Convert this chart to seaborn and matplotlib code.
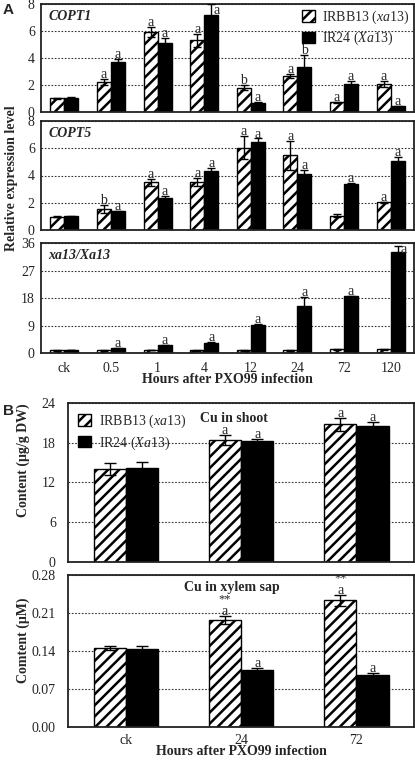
import matplotlib
matplotlib.use("Agg")
import matplotlib.pyplot as plt
import numpy as np
import pandas as pd
import seaborn as sns

# ---- data ----
LINES = ["IRBB13", "IR24"]
LEGEND_LABELS = [r"IRBB13 ($\mathit{xa13}$)", r"IR24 ($\mathit{Xa13}$)"]

HOURS_A = ["ck", "0.5", "1", "4", "12", "24", "72", "120"]

copt1_irbb13 = [1.0, 2.2, 5.93, 5.3, 1.78, 2.66, 0.7, 2.07]
copt1_irbb13_err = [0.03, 0.25, 0.35, 0.5, 0.2, 0.15, 0.05, 0.2]
copt1_ir24 = [1.05, 3.68, 5.12, 7.15, 0.68, 3.34, 2.07, 0.41]
copt1_ir24_err = [0.03, 0.27, 0.37, 0.83, 0.03, 0.88, 0.2, 0.03]
copt1_irbb13_sig = ["", "a", "a", "a", "b", "a", "a", "a"]
copt1_ir24_sig = ["", "a", "a", "a", "a", "b", "a", "a"]

copt5_irbb13 = [0.99, 1.53, 3.5, 3.5, 6.05, 5.48, 1.04, 2.02]
copt5_irbb13_err = [0.03, 0.3, 0.25, 0.3, 0.85, 1.05, 0.1, 0.05]
copt5_ir24 = [1.0, 1.36, 2.32, 4.3, 6.47, 4.12, 3.38, 5.1]
copt5_ir24_err = [0.03, 0.05, 0.2, 0.22, 0.25, 0.27, 0.05, 0.25]
copt5_irbb13_sig = ["", "b", "a", "a", "a", "a", "", "a"]
copt5_ir24_sig = ["", "a", "a", "a", "a", "a", "a", "a"]

xa13_irbb13 = [1.0, 1.0, 1.1, 1.0, 1.0, 1.0, 1.3, 1.3]
xa13_irbb13_err = [0.1, 0.1, 0.1, 0.1, 0.1, 0.1, 0.1, 0.1]
xa13_ir24 = [1.1, 1.6, 2.6, 3.5, 9.4, 15.4, 18.6, 33.1]
xa13_ir24_err = [0.1, 0.1, 0.2, 0.2, 0.3, 3.0, 0.3, 2.1]
xa13_irbb13_sig = ["", "", "", "", "", "", "", ""]
xa13_ir24_sig = ["", "a", "a", "a", "a", "a", "a", "a"]

HOURS_B = ["ck", "24", "72"]

shoot_irbb13 = [13.98, 18.4, 20.8]
shoot_irbb13_err = [0.9, 0.7, 1.0]
shoot_ir24 = [14.2, 18.2, 20.5]
shoot_ir24_err = [0.85, 0.4, 0.6]
shoot_irbb13_sig = ["", "a", "a"]
shoot_ir24_sig = ["", "a", "a"]

sap_irbb13 = [0.1456, 0.197, 0.233]
sap_irbb13_err = [0.004, 0.0075, 0.01]
sap_ir24 = [0.1437, 0.1047, 0.0948]
sap_ir24_err = [0.005, 0.004, 0.004]
sap_irbb13_sig = ["", "a", "a"]
sap_ir24_sig = ["", "a", "a"]
sap_stars = ["", "**", "**"]

# ---- style ----
sns.set_style("white")
plt.rcParams["font.family"] = ["Liberation Serif", "DejaVu Serif"]
plt.rcParams["mathtext.fontset"] = "custom"
plt.rcParams["mathtext.rm"] = "Liberation Serif"
plt.rcParams["mathtext.it"] = "Liberation Serif:italic"
plt.rcParams["hatch.linewidth"] = 1.8
plt.rcParams["hatch.color"] = "black"

TICK_FS = 10
SIG_FS = 10
LABEL_FS = 10


def make_frame(hours, a, b):
    return pd.DataFrame({
        "hour": hours * 2,
        "line": [LINES[0]] * len(hours) + [LINES[1]] * len(hours),
        "value": list(a) + list(b),
    })


def draw_panel(ax, hours, a, a_err, b, b_err, a_sig, b_sig, ticks, width, capsize):
    df = make_frame(hours, a, b)
    sns.barplot(data=df, x="hour", y="value", hue="line", order=hours,
                hue_order=LINES, palette=["white", "black"], width=width,
                gap=0, errorbar=None, edgecolor="black", linewidth=1.0,
                legend=False, ax=ax)
    for p in ax.containers[0]:
        p.set_hatch("///")
    ymax = ticks[-1]
    for cont, errs, sigs in zip(ax.containers, [a_err, b_err], [a_sig, b_sig]):
        xs = [p.get_x() + p.get_width() / 2 for p in cont]
        hs = [p.get_height() for p in cont]
        ax.errorbar(xs, hs, yerr=errs, fmt="none", ecolor="black",
                    elinewidth=1.0, capsize=capsize, capthick=1.0, zorder=5)
        for x, h, e, s in zip(xs, hs, errs, sigs):
            if not s:
                continue
            y = h + e
            if y > ymax * 0.92:
                ax.text(x + 0.12, ymax, s, ha="center", va="top",
                        fontsize=SIG_FS, zorder=6)
            else:
                ax.annotate(s, (x, y), xytext=(0, -1.5), textcoords="offset points",
                            ha="center", va="bottom", fontsize=SIG_FS, zorder=6)
    ax.set_ylim(0, ymax)
    ax.set_xlim(-0.5, len(hours) - 0.5)
    ax.set_yticks(ticks)
    ax.set_axisbelow(True)
    ax.yaxis.grid(True, linestyle=(0, (1.5, 1.5)), linewidth=0.8, color="#333333")
    ax.xaxis.grid(False)
    for sp in ax.spines.values():
        sp.set_visible(True)
        sp.set_color("#222222")
        sp.set_linewidth(1.3)
    ax.tick_params(axis="both", length=0, labelsize=TICK_FS, pad=4.5)
    ax.set_xlabel("")
    ax.set_ylabel("")


fig = plt.figure(figsize=(4.15, 7.62), dpi=100)

H = 762.0
W = 415.0


def add_axes(left_px, top_px, right_px, bottom_px):
    return fig.add_axes([left_px / W, 1 - bottom_px / H,
                         (right_px - left_px) / W, (bottom_px - top_px) / H])


ax1 = add_axes(41, 4, 414, 111.7)
ax2 = add_axes(41, 121, 414, 230)
ax3 = add_axes(41, 243.3, 414, 353.3)
ax4 = add_axes(68.3, 403, 414, 561.7)
ax5 = add_axes(68.3, 575, 414, 726.7)

draw_panel(ax1, HOURS_A, copt1_irbb13, copt1_irbb13_err, copt1_ir24, copt1_ir24_err,
           copt1_irbb13_sig, copt1_ir24_sig, [0, 2, 4, 6, 8], 0.6, 3.0)
draw_panel(ax2, HOURS_A, copt5_irbb13, copt5_irbb13_err, copt5_ir24, copt5_ir24_err,
           copt5_irbb13_sig, copt5_ir24_sig, [0, 2, 4, 6, 8], 0.6, 3.0)
draw_panel(ax3, HOURS_A, xa13_irbb13, xa13_irbb13_err, xa13_ir24, xa13_ir24_err,
           xa13_irbb13_sig, xa13_ir24_sig, [0, 9, 18, 27, 36], 0.6, 3.0)
draw_panel(ax4, HOURS_B, shoot_irbb13, shoot_irbb13_err, shoot_ir24, shoot_ir24_err,
           shoot_irbb13_sig, shoot_ir24_sig, [0, 6, 12, 18, 24], 0.56, 4.3)
draw_panel(ax5, HOURS_B, sap_irbb13, sap_irbb13_err, sap_ir24, sap_ir24_err,
           sap_irbb13_sig, sap_ir24_sig, [0, 0.07, 0.14, 0.21, 0.28], 0.56, 4.3)

# stars above the "a" letters in xylem sap panel
for p, s, e in zip(ax5.containers[0], sap_stars, sap_irbb13_err):
    if s:
        ax5.annotate(s, (p.get_x() + p.get_width() / 2, p.get_height() + e),
                     xytext=(0, 7.5), textcoords="offset points",
                     ha="center", va="bottom", fontsize=9)

ax5.yaxis.set_major_formatter(matplotlib.ticker.FormatStrFormatter("%.2f"))

for ax in (ax1, ax2):
    ax.set_xticklabels([])
ax3.tick_params(axis="x", pad=6)
ax5.tick_params(axis="x", pad=5)
ax4.set_xticklabels([])
for ax in (ax4, ax5):
    ax.tick_params(axis="y", pad=9)

# titles inside panels
for ax, t in [(ax1, "COPT1"), (ax2, "COPT5"), (ax3, "xa13/Xa13")]:
    ax.text(0.019, 0.885, t, transform=ax.transAxes, ha="left", va="center",
            fontsize=LABEL_FS, fontweight="bold", fontstyle="italic")
ax4.text(0.48, 0.9, "Cu in shoot", transform=ax4.transAxes, ha="center",
         va="center", fontsize=LABEL_FS, fontweight="bold")
ax5.text(0.474, 0.915, "Cu in xylem sap", transform=ax5.transAxes, ha="center",
         va="center", fontsize=LABEL_FS, fontweight="bold")

# legends
handles1 = [ax1.containers[0][0], ax1.containers[1][0]]
ax1.legend(handles1, LEGEND_LABELS, loc="upper right", frameon=False,
           fontsize=TICK_FS, handlelength=0.9, handleheight=0.9,
           handletextpad=0.5, labelspacing=0.28, borderaxespad=0.15,
           borderpad=0.2)
handles4 = [ax4.containers[0][0], ax4.containers[1][0]]
ax4.legend(handles4, LEGEND_LABELS, loc="upper left", frameon=False,
           fontsize=TICK_FS, handlelength=0.9, handleheight=0.9,
           handletextpad=0.6, labelspacing=0.3, borderaxespad=0.5,
           borderpad=0.2)

# axis labels
ax3.set_xlabel("Hours after PXO99 infection", fontsize=LABEL_FS, fontweight="bold",
               labelpad=-1)
ax5.set_xlabel("Hours after PXO99 infection", fontsize=LABEL_FS, fontweight="bold",
               labelpad=-1)
fig.text(12 / W, 1 - 178 / H, "Relative expression level", rotation=90,
         ha="center", va="center", fontsize=LABEL_FS, fontweight="bold")
ax4.set_ylabel("Content (μg/g DW)", fontsize=LABEL_FS, fontweight="bold")
ax4.yaxis.set_label_coords(-0.11, 0.64)
ax5.set_ylabel("Comtent (μM)", fontsize=LABEL_FS, fontweight="bold")
ax5.yaxis.set_label_coords(-0.11, 0.57)

# panel letters
fig.text(3 / W, 1 - 10 / H, "A", fontsize=11, fontweight="bold",
         family=["Liberation Sans", "DejaVu Sans"], ha="left", va="center")
fig.text(3 / W, 1 - 411 / H, "B", fontsize=11, fontweight="bold",
         family=["Liberation Sans", "DejaVu Sans"], ha="left", va="center")

fig.savefig("out.png", dpi=100)
